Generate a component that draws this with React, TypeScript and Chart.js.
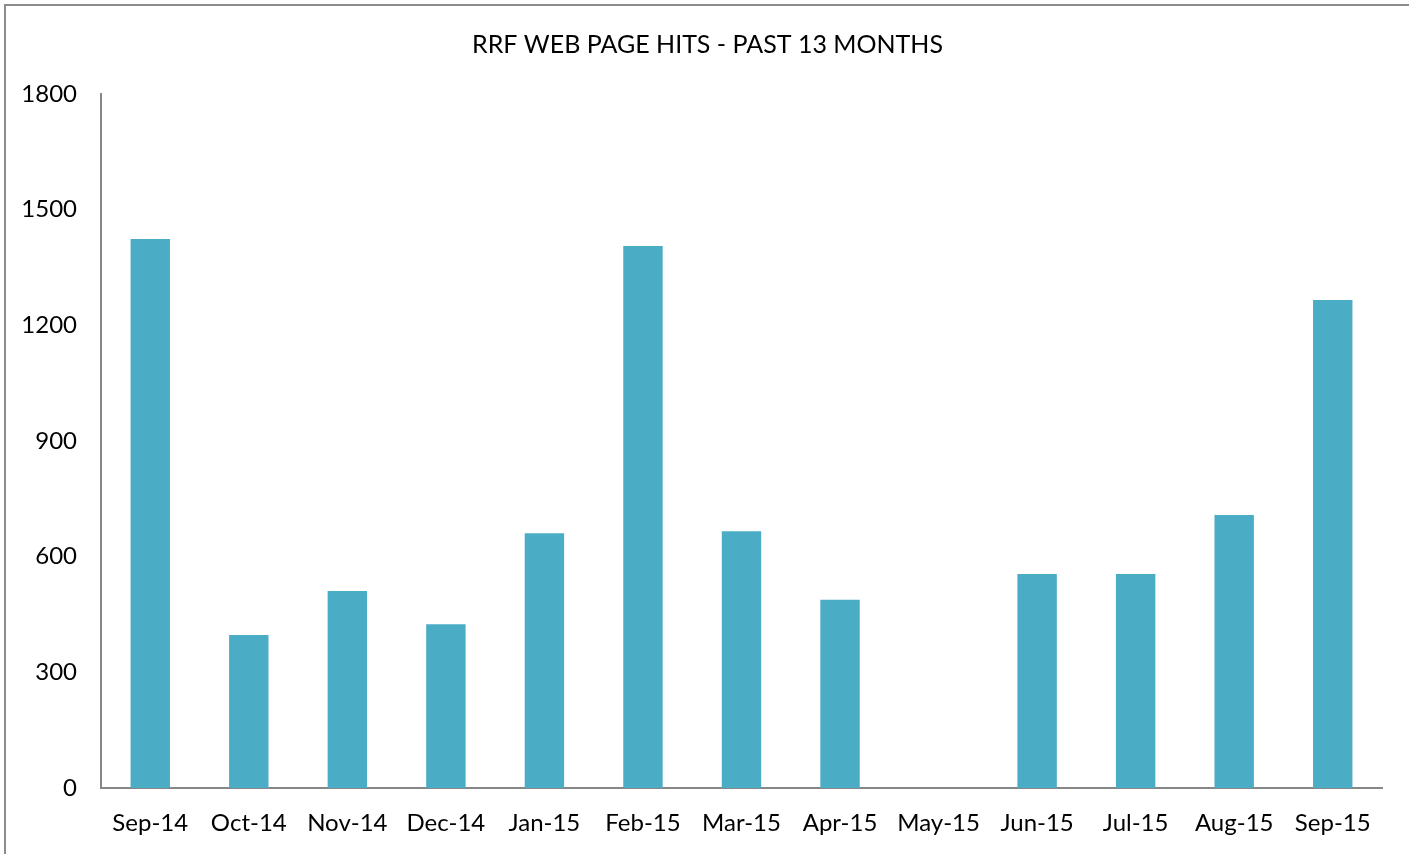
import React, { useEffect, useRef } from "react";
import { Chart, registerables } from "chart.js";

Chart.register(...registerables);

const months = ["Sep-14", "Oct-14", "Nov-14", "Dec-14", "Jan-15", "Feb-15", "Mar-15", "Apr-15", "May-15", "Jun-15", "Jul-15", "Aug-15", "Sep-15"];
const hits = [1424, 397, 511, 425, 661, 1406, 666, 488, 0, 555, 555, 708, 1266];
const yTicks = [0, 300, 600, 900, 1200, 1500, 1800];
const titleText = "RRF WEB PAGE HITS - PAST 13 MONTHS";

const FONT = "Lato, 'Open Sans', sans-serif";

const titlePlugin = {
  id: "centeredTitle",
  afterDraw(chart: any) {
    const ctx = chart.ctx;
    ctx.save();
    ctx.font = `normal 25px ${FONT}`;
    ctx.fillStyle = "#000";
    ctx.textAlign = "center";
    ctx.textBaseline = "middle";
    ctx.fillText(titleText, chart.width / 2 + 3, 45);
    ctx.restore();
  },
};

export default function App() {
  const ref = useRef<HTMLCanvasElement | null>(null);

  useEffect(() => {
    if (!ref.current) return;
    const chart = new Chart(ref.current, {
      type: "bar",
      data: {
        labels: months,
        datasets: [
          {
            label: "Hits",
            data: hits,
            backgroundColor: "#4BACC6",
            borderWidth: 0,
            barPercentage: 0.4,
            categoryPercentage: 1,
          },
        ],
      },
      plugins: [titlePlugin],
      options: {
        responsive: false,
        animation: false,
        layout: { padding: { left: 0, right: 27, top: 94, bottom: 0 } },
        plugins: {
          legend: { display: false },
          tooltip: { enabled: false },
          title: { display: false },
        },
        scales: {
          x: {
            afterFit: (scale: any) => {
              scale.height = 66;
            },
            grid: { display: false, drawTicks: false },
            border: { display: true, color: "#878787", width: 2 },
            ticks: {
              color: "#000",
              font: { family: FONT, size: 24 },
              padding: 21,
              maxRotation: 0,
              autoSkip: false,
            },
          },
          y: {
            min: 0,
            max: 1800,
            afterBuildTicks: (scale: any) => {
              scale.ticks = yTicks.map((v) => ({ value: v }));
            },
            afterFit: (scale: any) => {
              scale.width = 101;
            },
            grid: { display: false, drawTicks: false },
            border: { display: true, color: "#878787", width: 2 },
            ticks: {
              color: "#000",
              font: { family: FONT, size: 24 },
              padding: 24,
              callback: (v: any) => String(v),
            },
          },
        },
      },
    });
    return () => chart.destroy();
  }, []);

  return (
    <div style={{ position: "fixed", left: 0, top: 0, width: 1409, height: 854, background: "#fff", overflow: "hidden" }}>
      <div
        style={{
          position: "absolute",
          left: 4,
          top: 4,
          width: 1500,
          height: 1000,
          border: "2px solid #8c8c8c",
          boxSizing: "border-box",
        }}
      />
      <canvas ref={ref} width={1409} height={854} style={{ position: "absolute", left: 0, top: 0, width: 1409, height: 854 }} />
    </div>
  );
}
